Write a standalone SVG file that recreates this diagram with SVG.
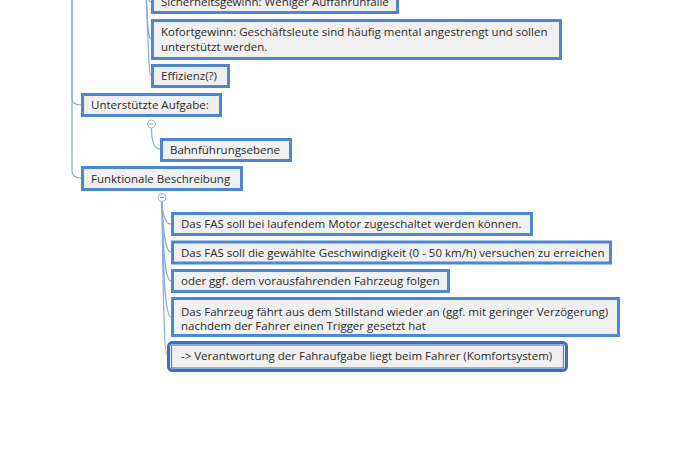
<svg xmlns="http://www.w3.org/2000/svg" width="675" height="465" viewBox="0 0 675 465">
<style>
.box{fill:#f0f0f0;stroke:#4d86d1;stroke-width:3}
.sel{fill:#f0f0f0;stroke:#3c6fbf;stroke-width:3}
.selin{fill:none;stroke:#4d86d1;stroke-width:1.2}
.t{font-family:"Open Sans","Noto Sans",sans-serif;font-size:11.5px;fill:#2b2b2b}
.c{fill:none;stroke:#86acde;stroke-width:1.2}
.col{fill:#fff;stroke:#9fb3cc;stroke-width:1}
.minus{stroke:#8a9bb0;stroke-width:1}
</style>
<rect width="675" height="465" fill="#fff"/>
<g id="connectors">
<path class="c" d="M72,-20 L72,98 Q72,105 81,105"/>
<path class="c" d="M72,-20 L72,171 Q72,178 81,178"/>
<path class="c" d="M145,-30 C146,-10 147,2 151,2"/>
<path class="c" d="M145,-30 C147,10 147,39 151,39"/>
<path class="c" d="M145,-30 C148,20 148,76 151,76"/>
<path class="c" d="M151.5,128 C151.5,140 154,149 160,149"/>
<path class="c" d="M162,201.5 C162,212 165,224 171,224"/>
<path class="c" d="M162,201.5 C163,230 165,252 171,252"/>
<path class="c" d="M162,201.5 C163,250 165,281 171,281"/>
<path class="c" d="M162,201.5 C163,270 165,317 171,317"/>
<path class="c" d="M162,201.5 C163,290 164,355 167,355"/>
</g>
<g id="n-sicherheit">
<rect class="box" x="152.5" y="-8.5" width="245" height="21"/>
<text class="t" x="161" y="6">Sicherheitsgewinn: Weniger Auffahrunfälle</text>
</g>
<g id="n-kofort">
<rect class="box" x="152.5" y="20.5" width="408" height="38"/>
<text class="t" x="161" y="35.5">Kofortgewinn: Geschäftsleute sind häufig mental angestrengt und sollen</text>
<text class="t" x="161" y="51">unterstützt werden.</text>
</g>
<g id="n-effizienz">
<rect class="box" x="152.5" y="65.5" width="76" height="21"/>
<text class="t" x="161" y="80">Effizienz(?)</text>
</g>
<g id="n-unterstuetzt">
<rect class="box" x="82.5" y="94.5" width="138" height="21"/>
<text class="t" x="91" y="109">Unterstützte Aufgabe:</text>
<circle class="col" cx="151.5" cy="124" r="4"/>
<line class="minus" x1="149.5" y1="124" x2="153.5" y2="124"/>
</g>
<g id="n-bahn">
<rect class="box" x="161.5" y="139.5" width="129" height="21"/>
<text class="t" x="170" y="154">Bahnführungsebene</text>
</g>
<g id="n-funktional">
<rect class="box" x="82.5" y="167.5" width="159" height="22"/>
<text class="t" x="91" y="182.5">Funktionale Beschreibung</text>
<circle class="col" cx="162" cy="197.5" r="4"/>
<line class="minus" x1="160" y1="197.5" x2="164" y2="197.5"/>
</g>
<g id="n-f1">
<rect class="box" x="172.5" y="213.5" width="359" height="21"/>
<text class="t" x="181" y="228">Das FAS soll bei laufendem Motor zugeschaltet werden können.</text>
</g>
<g id="n-f2">
<rect class="box" x="172.5" y="242" width="438" height="21"/>
<text class="t" x="181" y="256.5">Das FAS soll die gewählte Geschwindigkeit (0 - 50 km/h) versuchen zu erreichen</text>
</g>
<g id="n-f3">
<rect class="box" x="172.5" y="270.5" width="276" height="21"/>
<text class="t" x="181" y="285">oder ggf. dem vorausfahrenden Fahrzeug folgen</text>
</g>
<g id="n-f4">
<rect class="box" x="172.5" y="298.5" width="446" height="37"/>
<text class="t" x="181" y="315.5">Das Fahrzeug fährt aus dem Stillstand wieder an (ggf. mit geringer Verzögerung)</text>
<text class="t" x="181" y="330">nachdem der Fahrer einen Trigger gesetzt hat</text>
</g>
<g id="n-f5">
<rect class="sel" x="168.5" y="342.5" width="398" height="28" rx="4"/>
<rect class="selin" x="171.5" y="345" width="392" height="23"/>
<text class="t" x="181" y="359.5">-&gt; Verantwortung der Fahraufgabe liegt beim Fahrer (Komfortsystem)</text>
</g>
</svg>
